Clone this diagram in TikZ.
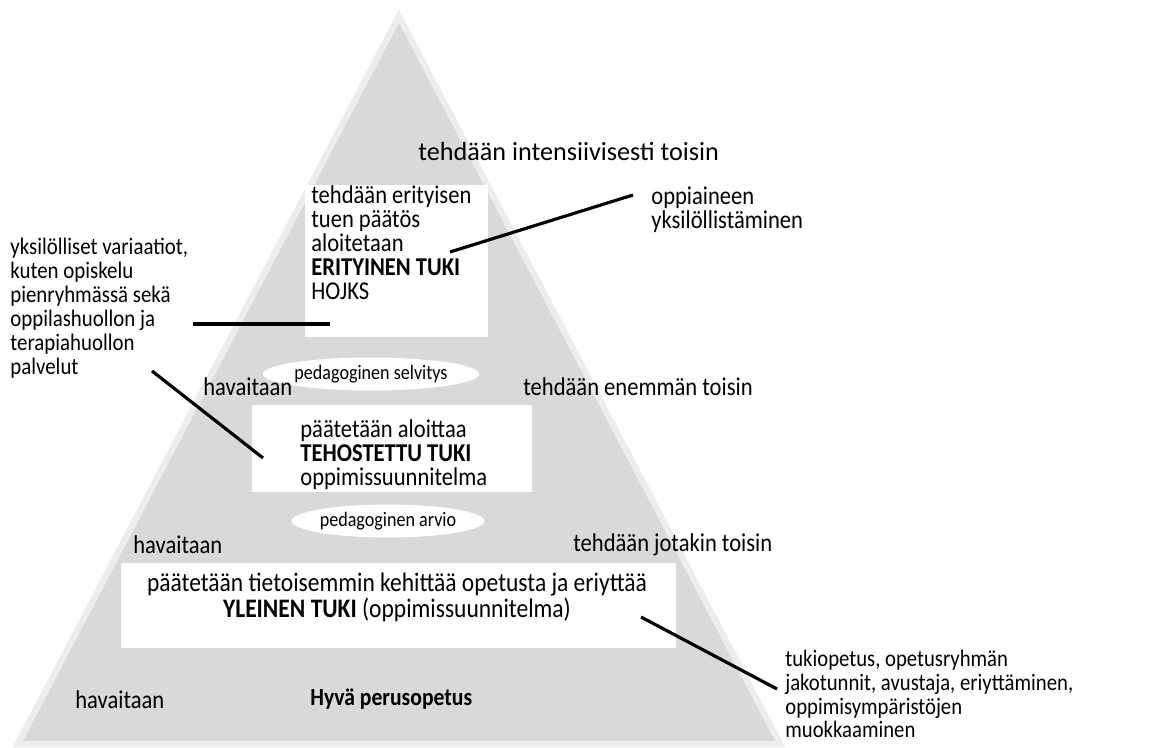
\documentclass[tikz,border=0pt]{standalone}
\usepackage{fontspec}
\setmainfont{Carlito}[FakeStretch=0.88]
\newfontfamily\widefont{Carlito}
\usetikzlibrary{shapes.geometric}

\tikzset{
  txt/.style={inner sep=0pt, align=left, font=\fontsize{14.6}{13.7}\selectfont},
  oval/.style={ellipse, fill=white, inner sep=0pt, minimum height=0.66cm,
    font=\fontsize{11.7}{12}\selectfont},
  pointer/.style={line width=1.8pt}
}

\begin{document}
\begin{tikzpicture}[x=0.02cm, y=-0.02cm]
    \useasboundingbox (0,0) rectangle (1152,747);
    \coordinate (top) at (399,10);
    \coordinate (right) at (785,747);
    \coordinate (left) at (13,747);
    \begin{scope}
        \clip (top) -- (right) -- (left) -- cycle;
        \fill [black!15] (top) -- (right) -- (left) -- cycle;
        \draw [black!7, line width=0.24cm] (top) -- (right) -- (left) -- cycle;
    \end{scope}
    \fill [white] (305,185) rectangle (488,337);
    \fill [white] (252,405) rectangle (532,492);
    \fill [white] (121,563) rectangle (676,648);
    \node [txt, anchor=west, font=\fontsize{14.9}{13.7}\widefont] (inten) at (418,152) {tehdään intensiivisesti toisin};
    \node [txt, anchor=north west] (erit) at (311,185) {tehdään erityisen\\tuen päätös\\aloitetaan\\\textbf{ERITYINEN TUKI}\\HOJKS};
    \node [txt, anchor=north west] (oppi) at (651,186) {oppiaineen\\yksilöllistäminen};
    \node [txt, anchor=north west, font=\fontsize{13.5}{13.6}\selectfont] (yks) at (10,238) {yksilölliset variaatiot,\\kuten opiskelu\\pienryhmässä sekä\\oppilashuollon ja\\terapiahuollon\\palvelut};
    \node [oval, minimum width=3.5cm] (selv) at (371,374) {pedagoginen selvitys};
    \node [txt, anchor=west] (hav1) at (203,387) {havaitaan};
    \node [txt, anchor=west] (enem) at (523,387) {tehdään enemmän toisin};
    \node [txt, anchor=north west] (teho) at (300,419) {päätetään aloittaa\\\textbf{TEHOSTETTU TUKI}\\oppimissuunnitelma};
    \node [oval, minimum width=3.04cm] (arvio) at (388,521) {pedagoginen arvio};
    \node [txt, anchor=west] (hav2) at (133,545) {havaitaan};
    \node [txt, anchor=west] (jotak) at (573,545) {tehdään jotakin toisin};
    \node [txt, align=center, font=\fontsize{15.2}{13.7}\selectfont] (ylei) at (397,597) {päätetään tietoisemmin kehittää opetusta ja eriyttää\\\textbf{YLEINEN TUKI} (oppimissuunnitelma)};
    \node [txt, anchor=north west, font=\fontsize{13.4}{13.5}\selectfont] (tuki) at (785,650) {tukiopetus, opetusryhmän\\jakotunnit, avustaja, eriyttäminen,\\oppimisympäristöjen\\muokkaaminen};
    \node [txt, anchor=west] (hav3) at (75,700) {havaitaan};
    \node [txt, anchor=west, font=\fontsize{14}{13.7}\selectfont\bfseries] (hyva) at (310,699) {Hyvä perusopetus};
    \coordinate (a1) at (450,252);
    \coordinate (a2) at (633,195);
    \coordinate (b1) at (193,324);
    \coordinate (b2) at (330,324);
    \coordinate (c1) at (152,371);
    \coordinate (c2) at (263,458);
    \coordinate (d1) at (641,617);
    \coordinate (d2) at (777,689);
    \draw [pointer] (a1) -- (a2);
    \draw [pointer] (b1) -- (b2);
    \draw [pointer] (c1) -- (c2);
    \draw [pointer] (d1) -- (d2);
\end{tikzpicture}
\end{document}
